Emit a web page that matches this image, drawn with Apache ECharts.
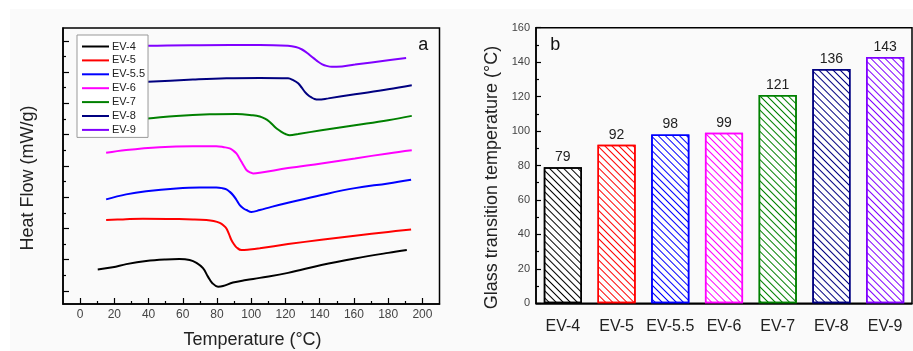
<!DOCTYPE html>
<html><head><meta charset="utf-8">
<script src="https://cdn.jsdelivr.net/npm/echarts@6/dist/echarts.min.js"></script>
<style>html,body{margin:0;padding:0;background:#fff}#c{width:913px;height:351px}</style>
</head><body><div id="c"></div>
<script>
// ---- Panel a: DSC curves (temperature in °C, heat flow in arbitrary tick units) ----
const ev4T = [10.3, 19, 27, 38.6, 50, 58, 64, 68, 71.8, 74.7, 77.3, 80.6, 83.5, 89.3, 97, 105, 121.5, 141, 160.6, 180, 190.9];
const ev4H = [0.69, 0.76, 0.86, 0.96, 1.01, 1.02, 0.99, 0.90, 0.73, 0.46, 0.25, 0.14, 0.16, 0.27, 0.35, 0.42, 0.58, 0.83, 1.04, 1.22, 1.31];
const ev5T = [15.2, 25, 36.7, 56, 66, 73.8, 78, 81.6, 84, 85.5, 87, 88.4, 90, 91.3, 94.3, 99, 105, 121.5, 141, 160.6, 180, 193.4];
const ev5H = [2.27, 2.29, 2.31, 2.30, 2.29, 2.27, 2.24, 2.18, 2.09, 2.0, 1.82, 1.63, 1.49, 1.40, 1.31, 1.33, 1.37, 1.50, 1.64, 1.77, 1.89, 1.97];
const ev55T = [15.2, 26.9, 38.6, 56.2, 69.8, 79.6, 83, 85.5, 87.5, 89.3, 91.3, 93.3, 95.5, 97.2, 100.1, 105, 111.8, 121.5, 141, 160.6, 180, 193.4];
const ev55H = [2.93, 3.09, 3.19, 3.28, 3.31, 3.31, 3.29, 3.25, 3.17, 3.07, 2.92, 2.75, 2.64, 2.59, 2.53, 2.59, 2.69, 2.82, 3.07, 3.29, 3.44, 3.56];
const ev6T = [15.2, 26.9, 46.4, 65.9, 79.6, 84, 87.4, 89.5, 91.3, 92.8, 94.3, 95.8, 97.2, 99, 101.1, 105, 121.5, 141, 160.6, 180, 193.8];
const ev6H = [4.42, 4.51, 4.60, 4.63, 4.63, 4.60, 4.56, 4.49, 4.40, 4.27, 4.13, 3.99, 3.87, 3.80, 3.76, 3.78, 3.93, 4.08, 4.24, 4.40, 4.50];
const ev7T = [15, 39.6, 56.2, 75.7, 91.3, 101, 105, 108, 110.5, 112.8, 115, 117.7, 120, 122.5, 127.4, 141, 160.6, 180, 193.8];
const ev7H = [5.42, 5.52, 5.60, 5.65, 5.66, 5.62, 5.58, 5.51, 5.42, 5.30, 5.19, 5.09, 5.02, 4.98, 5.02, 5.14, 5.30, 5.46, 5.60];
const ev8T = [15, 39.6, 65.9, 85.5, 105, 121.5, 124.5, 127.4, 129.5, 131.3, 133.3, 135.2, 137, 139.1, 145, 160.6, 180, 193.8];
const ev8H = [6.62, 6.69, 6.76, 6.80, 6.81, 6.80, 6.74, 6.64, 6.50, 6.37, 6.26, 6.19, 6.14, 6.12, 6.16, 6.29, 6.45, 6.58];
const ev9T = [15, 39.6, 70, 105, 121.5, 126, 129.4, 132, 134.3, 136.8, 139.1, 141.5, 144, 147, 149.9, 160.6, 180, 190.5];
const ev9H = [7.80, 7.84, 7.86, 7.87, 7.84, 7.80, 7.73, 7.64, 7.54, 7.43, 7.33, 7.25, 7.20, 7.17, 7.17, 7.24, 7.38, 7.45];

const seriesNames = ['EV-4', 'EV-5', 'EV-5.5', 'EV-6', 'EV-7', 'EV-8', 'EV-9'];
const xMajorTicks = [0, 20, 40, 60, 80, 100, 120, 140, 160, 180, 200];
const xMinorTicks = [10, 30, 50, 70, 90, 110, 130, 150, 170, 190];
const yMajorTicks = [0, 1, 2, 3, 4, 5, 6, 7, 8];
const yMinorTicks = [0.5, 1.5, 2.5, 3.5, 4.5, 5.5, 6.5, 7.5];

// ---- Panel b: glass transition temperatures ----
const categories = ['EV-4', 'EV-5', 'EV-5.5', 'EV-6', 'EV-7', 'EV-8', 'EV-9'];
const tgValues = [79, 92, 98, 99, 121, 136, 143];

// styles
const colors = ['#000000', '#ff0000', '#0000ff', '#ff00ff', '#008000', '#000080', '#8000ff'];
const FONT = 'Liberation Sans, Arial, sans-serif';

const curveT = [ev4T, ev5T, ev55T, ev6T, ev7T, ev8T, ev9T];
const curveH = [ev4H, ev5H, ev55H, ev6H, ev7H, ev8H, ev9H];

const lineSeries = seriesNames.map((n, i) => ({
  name: n, type: 'line', xAxisIndex: 0, yAxisIndex: 0,
  data: curveT[i].map((t, k) => [t, curveH[i][k]]),
  symbol: 'none', showSymbol: false, smooth: 0.4,
  lineStyle: { color: colors[i], width: 2 }, itemStyle: { color: colors[i] },
  z: 3
}));

const barSeries = {
  name: 'Tg', type: 'bar', xAxisIndex: 2, yAxisIndex: 2,
  barWidth: '71%',
  data: tgValues.map((v, i) => ({
    value: v,
    itemStyle: {
      color: '#ffffff', borderColor: colors[i], borderWidth: 1.5,
      decal: { symbol: 'rect', symbolSize: 1, dashArrayX: [1, 0], dashArrayY: [1, 3.2], rotation: Math.PI / 4, color: colors[i] }
    }
  })),
  label: { show: true, position: 'top', distance: 3, fontSize: 14, color: '#222', fontFamily: FONT }
};

const axisBlack = { onZero: false, lineStyle: { color: '#000', width: 1.5 } };

const option = {
  backgroundColor: '#ffffff',
  animation: false,
  textStyle: { fontFamily: FONT },
  grid: [
    { left: 63, top: 28, width: 376.5, height: 276, show: true, borderColor: '#000', borderWidth: 1.5, backgroundColor: 'transparent' },
    { left: 536, top: 27.7, right: 1, height: 275.6, show: true, borderColor: '#000', borderWidth: 1.5, backgroundColor: 'transparent' }
  ],
  legend: {
    data: seriesNames, orient: 'vertical', left: 77, top: 35,
    icon: 'rect',
    padding: [6, 3, 2, 5], itemWidth: 27, itemHeight: 2, itemGap: 2.9,
    backgroundColor: '#ffffff', borderColor: '#999', borderWidth: 1, borderRadius: 0,
    textStyle: { fontSize: 11, color: '#222', fontFamily: FONT, padding: [0, 0, 0, -2] }
  },
  xAxis: [
    { type: 'value', gridIndex: 0, min: -10, max: 210, position: 'bottom',
      axisLine: axisBlack,
      axisTick: { inside: true, length: 6, customValues: xMajorTicks, lineStyle: { color: '#000', width: 1.2 } },
      axisLabel: { customValues: xMajorTicks, fontSize: 12, color: '#444', margin: 5, fontFamily: FONT },
      splitLine: { show: false } },
    { type: 'value', gridIndex: 0, min: -10, max: 210, position: 'bottom',
      axisLine: { show: false, onZero: false },
      axisTick: { inside: true, length: 3, customValues: xMinorTicks, lineStyle: { color: '#000', width: 1.2 } },
      axisLabel: { show: false }, splitLine: { show: false } },
    { type: 'category', gridIndex: 1, data: categories, position: 'bottom',
      axisLine: axisBlack, axisTick: { show: false },
      axisLabel: { interval: 0, fontSize: 16, color: '#222', margin: 15, fontFamily: FONT } }
  ],
  yAxis: [
    { type: 'value', gridIndex: 0, min: -0.415, max: 8.41, position: 'left',
      axisLine: { show: true, onZero: false, lineStyle: { color: '#000', width: 1.5 } },
      axisTick: { show: true, inside: true, length: 6, customValues: yMajorTicks, lineStyle: { color: '#000', width: 1.2 } },
      axisLabel: { show: false }, splitLine: { show: false } },
    { type: 'value', gridIndex: 0, min: -0.415, max: 8.41, position: 'left',
      axisLine: { show: false, onZero: false },
      axisTick: { show: true, inside: true, length: 3, customValues: yMinorTicks, lineStyle: { color: '#000', width: 1.2 } },
      axisLabel: { show: false }, splitLine: { show: false } },
    { type: 'value', gridIndex: 1, min: 0, max: 160, interval: 20, position: 'left',
      axisLine: { show: true, onZero: false, lineStyle: { color: '#000', width: 1.5 } },
      axisTick: { show: true, inside: true, length: 5, lineStyle: { color: '#000', width: 1.2 } },
      minorTick: { show: true, splitNumber: 2, length: 3, lineStyle: { color: '#000', width: 1.2 } },
      axisLabel: { fontSize: 11, color: '#444', margin: 6, fontFamily: FONT },
      splitLine: { show: false } }
  ],
  graphic: [
    { type: 'rect', shape: { x: 10, y: 9, width: 903, height: 342 }, style: { fill: '#fafafa' }, z: -100, silent: true },
    { type: 'text', x: 28.5, y: 178, rotation: Math.PI / 2,
      style: { text: 'Heat Flow (mW/g)', font: '18px ' + FONT, fill: '#222', textAlign: 'center', textVerticalAlign: 'middle' } },
    { type: 'text', x: 252.5, y: 340, 
      style: { text: 'Temperature (°C)', font: '18px ' + FONT, fill: '#222', textAlign: 'center', textVerticalAlign: 'middle' } },
    { type: 'text', x: 491.8, y: 177.5, rotation: Math.PI / 2,
      style: { text: 'Glass transition temperature (°C)', font: '18px ' + FONT, fill: '#222', textAlign: 'center', textVerticalAlign: 'middle' } },
    { type: 'text', x: 423.3, y: 44.8,
      style: { text: 'a', font: '18px ' + FONT, fill: '#111', textAlign: 'center', textVerticalAlign: 'middle' } },
    { type: 'text', x: 555.3, y: 45.5,
      style: { text: 'b', font: '18px ' + FONT, fill: '#111', textAlign: 'center', textVerticalAlign: 'middle' } }
  ],
  series: lineSeries.concat([barSeries])
};

const chart = echarts.init(document.getElementById('c'), null, { renderer: 'canvas' });
chart.setOption(option);
</script></body></html>
